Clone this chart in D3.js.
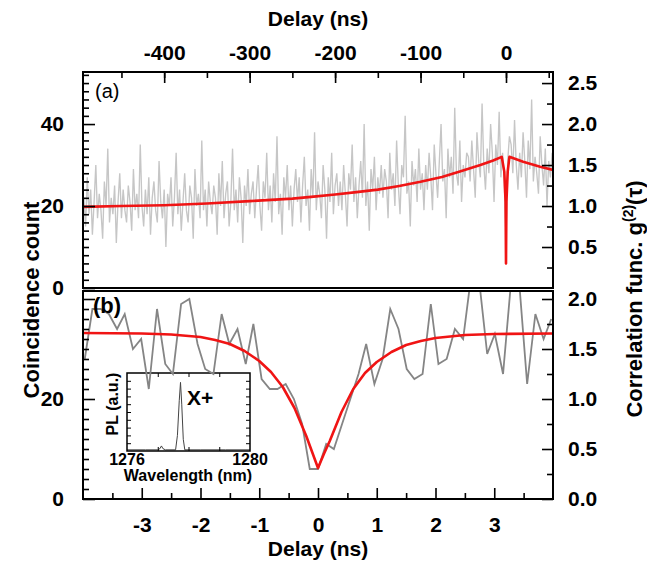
<!DOCTYPE html>
<html>
<head>
<meta charset="utf-8">
<script src="https://cdn.jsdelivr.net/npm/d3@7.9.0/dist/d3.min.js"></script>
<style>
  body { margin: 0; background: #fff; }
  svg { display: block; font-family: 'Liberation Sans', Arial, sans-serif; }
</style>
</head>
<body>
<svg id="chart" width="647" height="562"></svg>
<script>
// ---- panel (a): long time-scale histogram, 2 ns bins starting at -494 ns
const topDelayStart = -494;
const topDelayStep = 2;
const topCounts = [
  22, 15, 27, 18, 24, 13, 21, 30, 17, 23, 19, 12, 26, 20, 34, 16, 22, 18, 25, 11, 21, 28, 17, 24, 19,
  16, 25, 21, 14, 29, 19, 23, 17, 35, 20, 15, 24, 18, 27, 13, 22, 26, 19, 16, 31, 21, 17, 24, 10, 23,
  20, 27, 15, 22, 33, 18, 24, 14, 21, 28, 19, 16, 25, 22, 12, 29, 20, 23, 17, 36, 19, 24, 15, 26, 21,
  18, 25, 22, 13, 28, 20, 31, 17, 23, 26, 15, 21, 34, 19, 24, 16, 27, 22, 11, 25, 20, 29, 18, 23, 26,
  17, 24, 30, 20, 14, 26, 22, 33, 19, 25, 16, 28, 21, 37, 18, 23, 13, 27, 22, 30, 19, 25, 15, 24, 29,
  21, 27, 16, 25, 32, 20, 24, 14, 29, 22, 38, 19, 26, 23, 17, 30, 24, 12, 27, 21, 33, 18, 25, 28, 20,
  26, 19, 30, 23, 15, 28, 24, 35, 21, 27, 17, 25, 31, 22, 40, 20, 26, 14, 29, 24, 32, 19, 27, 23, 30,
  22, 29, 26, 17, 33, 24, 28, 20, 36, 25, 18, 30, 27, 42, 23, 26, 15, 31, 25, 29, 21, 34, 24, 28, 19,
  30, 24, 33, 27, 19, 35, 28, 22, 31, 40, 26, 29, 17, 34, 27, 32, 23, 44, 28, 25, 36, 21, 30, 27, 33,
  32, 26, 36, 29, 22, 38, 31, 27, 45, 30, 24, 34, 28, 40, 33, 21, 35, 30, 43, 27, 33, 26, 12, 31, 37,
  35, 28, 41, 30, 24, 33, 27, 38, 31, 22, 36, 29, 46, 26, 32, 28, 23, 37, 30, 25, 34, 20, 31, 27, 33,
];
const topFitDelay = [-495, -450, -400, -350, -300, -250, -225, -200, -175, -150, -125, -100, -75, -54, -30, -15, -5, -2, -0.5, 0, 0.5, 2, 4, 20, 40, 55];
const topFitG2 = [0.99, 1.0, 1.01, 1.03, 1.06, 1.09, 1.115, 1.14, 1.17, 1.2, 1.245, 1.295, 1.355, 1.42, 1.5, 1.555, 1.6, 1.42, 1.05, 0.3, 1.05, 1.42, 1.6, 1.54, 1.48, 1.44];

// ---- panel (b): short time-scale histogram
const bottomDelay = [
  -3.97, -3.84, -3.70, -3.56, -3.42, -3.29, -3.15, -3.01, -2.88, -2.74, -2.60, -2.47, -2.33, -2.19, -2.05,
  -1.92, -1.78, -1.64, -1.51, -1.37, -1.23, -1.10, -0.96, -0.82, -0.69, -0.55, -0.41, -0.27, -0.14, 0,
  0.14, 0.27, 0.41, 0.55, 0.69, 0.82, 0.96, 1.10, 1.23, 1.37, 1.51, 1.64, 1.78, 1.92, 2.05,
  2.19, 2.33, 2.47, 2.60, 2.74, 2.88, 3.01, 3.15, 3.29, 3.42, 3.56, 3.70, 3.84, 3.97,
];
const bottomCounts = [
  28, 38, 38, 37, 34, 37, 30, 32, 22, 38, 27, 25, 39, 40, 31, 26, 25, 37, 31, 34, 27, 35, 24, 22, 22, 23, 20, 15, 6, 6,
  11, 10, 15, 20, 25, 31, 23, 28, 38, 34, 26, 24, 25, 39, 27, 28, 34, 32, 44, 44, 29, 33, 25, 44, 44, 23, 37, 32, 36,
];
const bottomFitDelay = [-4, -3, -2.5, -2, -1.75, -1.5, -1.25, -1, -0.8, -0.6, -0.4, -0.2, -0.1, 0, 0.1, 0.2, 0.4, 0.6, 0.8, 1, 1.25, 1.5, 1.75, 2, 2.5, 3, 4];
const bottomFitG2 = [1.66, 1.655, 1.645, 1.62, 1.59, 1.55, 1.48, 1.38, 1.27, 1.12, 0.91, 0.63, 0.47, 0.31, 0.45, 0.58, 0.87, 1.1, 1.26, 1.37, 1.47, 1.54, 1.58, 1.61, 1.64, 1.65, 1.655];

// ---- inset: PL spectrum
const insetWavelength = [1276, 1276.6, 1277.0, 1277.07, 1277.12, 1277.17, 1277.25, 1277.58, 1277.64, 1277.70, 1277.74, 1277.78, 1277.83, 1277.88, 1278.4, 1279.2, 1280];
const insetPL = [0.015, 0.015, 0.015, 0.03, 0.065, 0.03, 0.015, 0.015, 0.2, 0.65, 0.88, 0.6, 0.15, 0.015, 0.015, 0.015, 0.015];

// ---- tick labels
const topDelayTicks = [-400, -300, -200, -100, 0];
const bottomDelayTicks = [-3, -2, -1, 0, 1, 2, 3];
const topCountTicks = [0, 20, 40];
const bottomCountTicks = [0, 20];
const topG2Ticks = [0.5, 1.0, 1.5, 2.0, 2.5];
const bottomG2Ticks = [0.0, 0.5, 1.0, 1.5, 2.0];
const insetTicks = [1276, 1280];

const RED = '#f01414';
const left = 83, right = 553;
const topPanel = { top: 72, bottom: 288 };
const botPanel = { top: 291, bottom: 499 };

const svg = d3.select('#chart');

const xTop = d3.scaleLinear().domain([-495, 55]).range([left, right]);
const yTopCount = d3.scaleLinear().domain([0, 52.7]).range([topPanel.bottom, topPanel.top]);
const yTopG2 = d3.scaleLinear().domain([0, 2.635]).range([topPanel.bottom, topPanel.top]);
const xBot = d3.scaleLinear().domain([-4, 4]).range([left, right]);
const yBotCount = d3.scaleLinear().domain([0, 41.6]).range([botPanel.bottom, botPanel.top]);
const yBotG2 = d3.scaleLinear().domain([0, 2.08]).range([botPanel.bottom, botPanel.top]);

const defs = svg.append('defs');
defs.append('clipPath').attr('id', 'clip-top').append('rect')
  .attr('x', left).attr('y', topPanel.top).attr('width', right - left).attr('height', topPanel.bottom - topPanel.top);
defs.append('clipPath').attr('id', 'clip-bot').append('rect')
  .attr('x', left).attr('y', botPanel.top).attr('width', right - left).attr('height', botPanel.bottom - botPanel.top);

// ---- inset (drawn first so the panel (b) data run over it)
const inset = { left: 127, right: 250, top: 373, bottom: 451 };
const xIn = d3.scaleLinear().domain([1276, 1280]).range([inset.left, inset.right]);
const yIn = d3.scaleLinear().domain([0, 1]).range([inset.bottom, inset.top]);
const insetG = svg.append('g');

insetG.append('path')
  .datum(insetWavelength.map((w, i) => [w, insetPL[i]]))
  .attr('fill', 'none')
  .attr('stroke', '#444')
  .attr('stroke-width', 1)
  .attr('d', d3.line().x((d) => xIn(d[0])).y((d) => yIn(d[1])));

function inward(g, axis) {
  g.call(axis);
  g.select('.domain').remove();
  g.selectAll('line').attr('stroke', '#000').attr('stroke-width', 1);
  g.selectAll('text').remove();
}
insetG.append('g').attr('transform', `translate(0,${inset.top})`)
  .call((g) => inward(g, d3.axisTop(xIn).tickValues([1277, 1278, 1279]).tickSize(-4)));
insetG.append('g').attr('transform', `translate(0,${inset.bottom})`)
  .call((g) => inward(g, d3.axisBottom(xIn).tickValues([1277, 1278, 1279]).tickSize(-4)));
insetG.append('g').attr('transform', `translate(${inset.left},0)`)
  .call((g) => inward(g, d3.axisLeft(yIn).tickValues(d3.range(0.1, 1, 0.1)).tickSize(-4)));
insetG.append('g').attr('transform', `translate(${inset.right},0)`)
  .call((g) => inward(g, d3.axisRight(yIn).tickValues(d3.range(0.1, 1, 0.1)).tickSize(-4)));

insetG.append('rect')
  .attr('x', inset.left).attr('y', inset.top)
  .attr('width', inset.right - inset.left).attr('height', inset.bottom - inset.top)
  .attr('fill', 'none').attr('stroke', '#000').attr('stroke-width', 1.5);

insetG.selectAll('.in-label')
  .data(insetTicks)
  .join('text')
  .attr('x', (d) => xIn(d))
  .attr('y', 465)
  .attr('text-anchor', 'middle')
  .attr('font-size', 16)
  .attr('font-weight', 'bold')
  .text((d) => d);

insetG.append('text')
  .attr('x', 188).attr('y', 481)
  .attr('text-anchor', 'middle')
  .attr('font-size', 16).attr('font-weight', 'bold')
  .text('Wavelength (nm)');

insetG.append('text')
  .attr('transform', `translate(118,${(inset.top + inset.bottom) / 2 - 8}) rotate(-90)`)
  .attr('text-anchor', 'middle')
  .attr('font-size', 16).attr('font-weight', 'bold')
  .text('PL (a.u.)');

insetG.append('text')
  .attr('x', 187).attr('y', 405)
  .attr('font-size', 21).attr('font-weight', 'bold')
  .text('X+');

// ---- data
svg.append('path')
  .datum(topCounts)
  .attr('clip-path', 'url(#clip-top)')
  .attr('fill', 'none')
  .attr('stroke', '#c6c6c6')
  .attr('stroke-width', 1.35)
  .attr('d', d3.line().x((d, i) => xTop(topDelayStart + i * topDelayStep)).y((d) => yTopCount(d)));

svg.append('path')
  .datum(topFitDelay.map((t, i) => [t, topFitG2[i]]))
  .attr('clip-path', 'url(#clip-top)')
  .attr('fill', 'none')
  .attr('stroke', RED)
  .attr('stroke-width', 2.6)
  .attr('stroke-linejoin', 'round')
  .attr('d', d3.line().x((d) => xTop(d[0])).y((d) => yTopG2(d[1])));

svg.append('path')
  .datum(bottomDelay.map((t, i) => [t, bottomCounts[i]]))
  .attr('clip-path', 'url(#clip-bot)')
  .attr('fill', 'none')
  .attr('stroke', '#858585')
  .attr('stroke-width', 1.8)
  .attr('d', d3.line().x((d) => xBot(d[0])).y((d) => yBotCount(d[1])));

svg.append('path')
  .datum(bottomFitDelay.map((t, i) => [t, bottomFitG2[i]]))
  .attr('clip-path', 'url(#clip-bot)')
  .attr('fill', 'none')
  .attr('stroke', RED)
  .attr('stroke-width', 2.6)
  .attr('stroke-linejoin', 'round')
  .attr('d', d3.line().x((d) => xBot(d[0])).y((d) => yBotG2(d[1])));

// ---- axes
function styleAxis(g, withText) {
  g.select('.domain').remove();
  g.attr('font-family', null).attr('font-size', null);
  g.selectAll('line').attr('stroke', '#000').attr('stroke-width', 1.6);
  if (withText) {
    g.selectAll('text').attr('font-size', 21).attr('font-weight', 'bold').attr('fill', '#000');
  } else {
    g.selectAll('text').remove();
  }
}

function addAxis(axis, transform, withText) {
  svg.append('g').attr('transform', transform).call(axis).call((g) => styleAxis(g, withText));
}

// top delay axis
addAxis(d3.axisTop(xTop).tickValues(d3.range(-450, 51, 50)).tickSize(-6), `translate(0,${topPanel.top})`, false);
addAxis(d3.axisTop(xTop).tickValues(topDelayTicks).tickSize(-11).tickPadding(12).tickFormat((d) => String(d)),
  `translate(0,${topPanel.top})`, true);

// bottom delay axis
addAxis(d3.axisBottom(xBot).tickValues(d3.range(-3.5, 3.6, 1)).tickSize(-6), `translate(0,${botPanel.bottom})`, false);
addAxis(d3.axisBottom(xBot).tickValues(bottomDelayTicks).tickSize(-11).tickPadding(18).tickFormat((d) => String(d)),
  `translate(0,${botPanel.bottom})`, true);

// left count axes
const topMinorCounts = d3.range(2, 53, 2).filter((d) => d % 20 !== 0);
const botMinorCounts = d3.range(2, 42, 2).filter((d) => d % 20 !== 0);
addAxis(d3.axisLeft(yTopCount).tickValues(topMinorCounts).tickSize(-6), `translate(${left},0)`, false);
addAxis(d3.axisLeft(yTopCount).tickValues(topCountTicks).tickSize(-12).tickPadding(19), `translate(${left},0)`, true);
addAxis(d3.axisLeft(yBotCount).tickValues(botMinorCounts).tickSize(-6), `translate(${left},0)`, false);
addAxis(d3.axisLeft(yBotCount).tickValues([40]).tickSize(-12), `translate(${left},0)`, false);
addAxis(d3.axisLeft(yBotCount).tickValues(bottomCountTicks).tickSize(-12).tickPadding(19), `translate(${left},0)`, true);

// right g2 axes
addAxis(d3.axisRight(yTopG2).tickValues([0.25, 0.75, 1.25, 1.75, 2.25]).tickSize(-6), `translate(${right},0)`, false);
addAxis(d3.axisRight(yTopG2).tickValues(topG2Ticks).tickSize(-11).tickPadding(15).tickFormat(d3.format('.1f')),
  `translate(${right},0)`, true);
addAxis(d3.axisRight(yBotG2).tickValues([0.25, 0.75, 1.25, 1.75]).tickSize(-6), `translate(${right},0)`, false);
addAxis(d3.axisRight(yBotG2).tickValues(bottomG2Ticks).tickSize(-11).tickPadding(15).tickFormat(d3.format('.1f')),
  `translate(${right},0)`, true);

// ---- frames
[topPanel, botPanel].forEach((p) => {
  svg.append('rect')
    .attr('x', left).attr('y', p.top)
    .attr('width', right - left).attr('height', p.bottom - p.top)
    .attr('fill', 'none').attr('stroke', '#000').attr('stroke-width', 2);
});

// ---- titles and panel tags
svg.append('text')
  .attr('x', (left + right) / 2).attr('y', 26)
  .attr('text-anchor', 'middle').attr('font-size', 21).attr('font-weight', 'bold')
  .text('Delay (ns)');

svg.append('text')
  .attr('x', (left + right) / 2).attr('y', 556)
  .attr('text-anchor', 'middle').attr('font-size', 21).attr('font-weight', 'bold')
  .text('Delay (ns)');

svg.append('text')
  .attr('transform', 'translate(39,300) rotate(-90)')
  .attr('text-anchor', 'middle').attr('font-size', 22).attr('font-weight', 'bold')
  .text('Coincidence count');

const g2Title = svg.append('text')
  .attr('transform', 'translate(642,299) rotate(-90)')
  .attr('text-anchor', 'middle').attr('font-size', 22).attr('font-weight', 'bold');
g2Title.append('tspan').text('Correlation func. g');
g2Title.append('tspan').attr('font-size', 14).attr('dy', -9).text('(2)');
g2Title.append('tspan').attr('dy', 9).text('(τ)');

svg.append('text')
  .attr('x', 95).attr('y', 98)
  .attr('font-size', 20)
  .text('(a)');

svg.append('text')
  .attr('x', 93).attr('y', 313)
  .attr('font-size', 22).attr('font-weight', 'bold')
  .text('(b)');
</script>
</body>
</html>
